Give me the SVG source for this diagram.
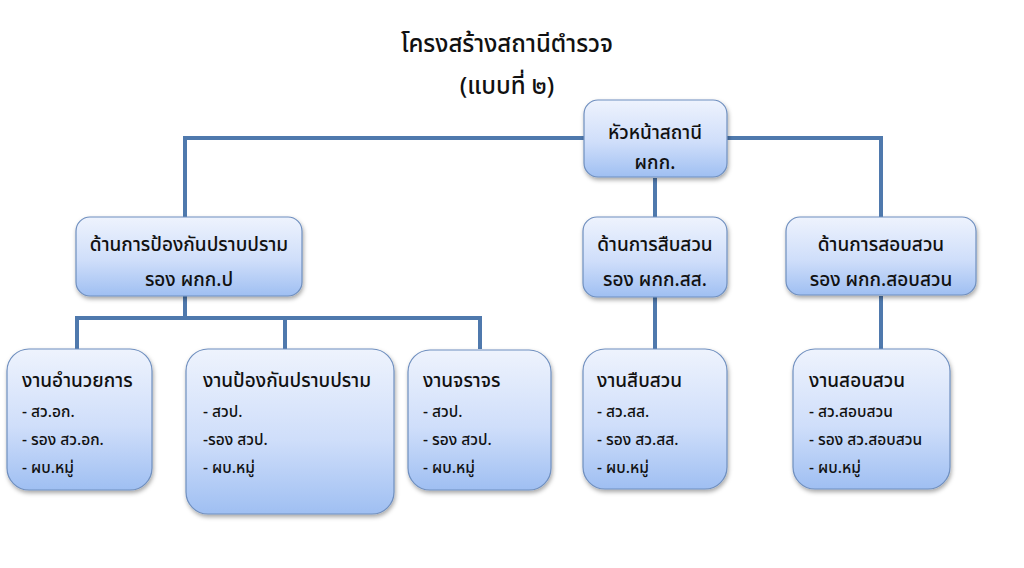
<svg xmlns="http://www.w3.org/2000/svg" width="1024" height="568" viewBox="0 0 1024 568">
<defs>
<linearGradient id="g" x1="0" y1="0" x2="0" y2="1">
<stop offset="0" stop-color="#eef3fd"/>
<stop offset="0.55" stop-color="#cfdefa"/>
<stop offset="1" stop-color="#9fbff2"/>
</linearGradient>
<filter id="sh" x="-10%" y="-10%" width="125%" height="130%">
<feDropShadow dx="1" dy="2.5" stdDeviation="2" flood-color="#000" flood-opacity="0.35"/>
</filter>
</defs>
<style>
.box{fill:url(#g);stroke:#6f8fbf;stroke-width:1.2;filter:url(#sh)}
.t{font-family:"Noto Sans Thai","Noto Sans",sans-serif;fill:#111;font-weight:500}
.h{font-size:19px}
.c{text-anchor:middle}
.i{font-size:15.5px}
.ttl{font-size:24px;text-anchor:middle}
.ln{stroke:#4f79ad;stroke-width:4;fill:none}
</style>
<rect width="1024" height="568" fill="#fff"/>
<g id="title">
<text class="t ttl" x="507" y="52">โครงสร้างสถานีตำรวจ</text>
<text class="t ttl" x="507" y="94">(แบบที่ ๒)</text>
</g>
<g id="connectors">
<path class="ln" d="M185 217 V138 H881 V217"/>
<path class="ln" d="M655 178 V217"/>
<path class="ln" d="M185 296 V318"/>
<path class="ln" d="M77 349 V318 H480 V349"/>
<path class="ln" d="M285 318 V349"/>
<path class="ln" d="M655 297 V349"/>
<path class="ln" d="M881 296 V349"/>
</g>
<g id="head">
<rect class="box" x="584" y="100" width="143" height="77" rx="14"/>
<text class="t h c" x="655" y="139">หัวหน้าสถานี</text>
<text class="t h c" x="655" y="169">ผกก.</text>
</g>
<g id="prevention">
<rect class="box" x="76" y="217" width="226" height="79" rx="14"/>
<text class="t h c" x="189" y="251">ด้านการป้องกันปราบปราม</text>
<text class="t h c" x="189" y="286">รอง ผกก.ป</text>
</g>
<g id="investigation">
<rect class="box" x="583" y="217" width="144" height="80" rx="14"/>
<text class="t h c" x="655" y="251">ด้านการสืบสวน</text>
<text class="t h c" x="655" y="286">รอง ผกก.สส.</text>
</g>
<g id="inquiry">
<rect class="box" x="786" y="217" width="190" height="78" rx="14"/>
<text class="t h c" x="881" y="251">ด้านการสอบสวน</text>
<text class="t h c" x="881" y="286">รอง ผกก.สอบสวน</text>
</g>
<g id="admin">
<rect class="box" x="7" y="349" width="145" height="141" rx="22"/>
<text class="t h" x="22" y="387">งานอำนวยการ</text>
<text class="t i" x="22" y="417">- สว.อก.</text>
<text class="t i" x="22" y="445">- รอง สว.อก.</text>
<text class="t i" x="22" y="473">- ผบ.หมู่</text>
</g>
<g id="crime-prevention">
<rect class="box" x="186" y="349" width="208" height="165" rx="22"/>
<text class="t h" x="203" y="387">งานป้องกันปราบปราม</text>
<text class="t i" x="203" y="417">- สวป.</text>
<text class="t i" x="203" y="445">-รอง สวป.</text>
<text class="t i" x="203" y="473">- ผบ.หมู่</text>
</g>
<g id="traffic">
<rect class="box" x="408" y="350" width="143" height="140" rx="22"/>
<text class="t h" x="423" y="387">งานจราจร</text>
<text class="t i" x="423" y="417">- สวป.</text>
<text class="t i" x="423" y="445">- รอง สวป.</text>
<text class="t i" x="423" y="473">- ผบ.หมู่</text>
</g>
<g id="investigation-work">
<rect class="box" x="583" y="349" width="144" height="140" rx="22"/>
<text class="t h" x="597" y="387">งานสืบสวน</text>
<text class="t i" x="597" y="417">- สว.สส.</text>
<text class="t i" x="597" y="445">- รอง สว.สส.</text>
<text class="t i" x="597" y="473">- ผบ.หมู่</text>
</g>
<g id="inquiry-work">
<rect class="box" x="793" y="349" width="157" height="140" rx="22"/>
<text class="t h" x="809" y="387">งานสอบสวน</text>
<text class="t i" x="809" y="417">- สว.สอบสวน</text>
<text class="t i" x="809" y="445">- รอง สว.สอบสวน</text>
<text class="t i" x="809" y="473">- ผบ.หมู่</text>
</g>
</svg>
